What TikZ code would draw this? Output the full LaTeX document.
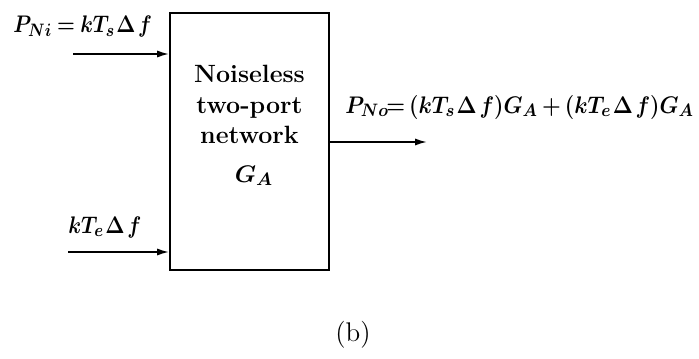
\documentclass[tikz,border=0pt]{standalone}
\usepackage{graphicx}
\usetikzlibrary{arrows.meta}
\begin{document}
\begin{tikzpicture}[x=0.5pt,y=-0.5pt,
  lbl/.style={inner sep=0pt,font=\fontsize{12.5}{15}\selectfont\bfseries\boldmath},
  conn/.style={line width=0.9pt,-{Latex[length=6pt,width=3.6pt]}},
  netbox/.style={draw,line width=0.9pt,minimum width=79.5pt,minimum height=128.5pt,inner sep=0pt}]
\useasboundingbox (0,0) rectangle (699,358);
\node[netbox] (box) at (249.5,141.5) {};
\node[lbl,align=center,anchor=north,font=\fontsize{12.5}{15.3}\selectfont\bfseries] (txt) at (249.5,65) {Noiseless\\two-port\\network};
\node[lbl,anchor=base] (ga) at (254,182) {$G_A$};
\node[lbl,anchor=base west] (pni) at (13,33) {\scalebox{0.85}[1]{$P_{Ni}\mkern4mu{=}\mkern4mu kT_s\mkern1mu\Delta\mkern2mu f$}};
\node[lbl,anchor=base west] (kte) at (68,233) {\scalebox{0.86}[1]{$kT_e\mkern1mu\Delta\mkern2mu f$}};
\node[lbl,anchor=base west] (pno) at (345,113) {\scalebox{0.895}[1]{$P_{No}\mkern-2mu{=}\mkern3mu(kT_s\mkern1mu\Delta\mkern2mu f)G_A\mkern3mu{+}\mkern3mu(kT_e\mkern1mu\Delta\mkern2mu f)G_A$}};
\node[inner sep=0pt,font=\fontsize{13.5}{15}\selectfont,anchor=base] (cap) at (353,341) {(b)};
\coordinate (in1) at (73,54);
\coordinate (in2) at (68,252);
\coordinate (out) at (427,142);
\draw[conn] (in1) -- (in1 -| box.west);
\draw[conn] (in2) -- (in2 -| box.west);
\draw[conn] (out -| box.east) -- (out);
\end{tikzpicture}
\end{document}
